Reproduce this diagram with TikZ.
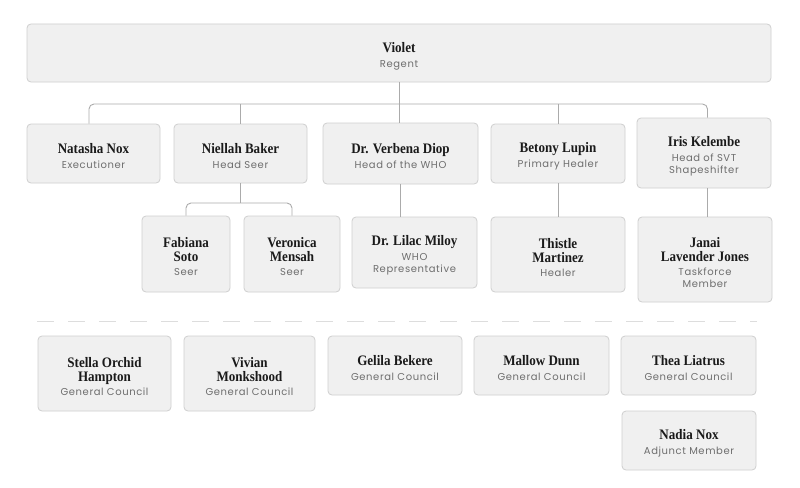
\documentclass[tikz,border=0pt]{standalone}
\usepackage{fontspec}
\newfontfamily\namefont[FakeStretch=0.9]{Liberation Serif}
\newfontfamily\subfont[LetterSpace=6]{Poppins}
\definecolor{boxfill}{HTML}{F0F0F0}
\definecolor{boxline}{HTML}{CFCFCF}
\definecolor{connline}{HTML}{ABABAB}
\definecolor{namecol}{HTML}{1A1A1A}
\definecolor{subcol}{HTML}{6E6E6E}
\definecolor{dashcol}{HTML}{DDDDDD}
\newcommand{\nm}[1]{{\namefont\bfseries\color{namecol}#1}}
\newcommand{\nmf}[1]{\rule{0pt}{16pt}{\namefont\bfseries\color{namecol}#1}}
\newcommand{\sbt}[1]{{\subfont\fontsize{10}{11}\selectfont\color{subcol}#1}}
\begin{document}
\begin{tikzpicture}[x=1pt,y=-1pt,
  card/.style={draw=boxline, fill=boxfill, rounded corners=4pt, line width=0.8pt,
    inner sep=0pt, align=center, font=\fontsize{14.5}{14}\selectfont},
  conn/.style={draw=connline, line width=0.9pt},
  dashline/.style={draw=dashcol, line width=0.9pt, dash pattern=on 17pt off 14pt}]
\useasboundingbox (0,0) rectangle (800,487);
\fill[white] (0,0) rectangle (800,487);

% top
\node[card, minimum width=744pt, minimum height=58pt] (violet) at (399,53) {\nmf{Violet}\\[1pt]\sbt{Regent}};

% row 1
\node[card, minimum width=133pt, minimum height=59pt] (nat) at (93.5,153.5) {\nmf{Natasha Nox}\\[1pt]\sbt{Executioner}};
\node[card, minimum width=133pt, minimum height=59pt] (niel) at (240.5,153.5) {\nmf{Niellah Baker}\\[1pt]\sbt{Head Seer}};
\node[card, minimum width=155pt, minimum height=61pt] (verb) at (400.5,153.5) {\nmf{Dr. Verbena Diop}\\[1pt]\sbt{Head of the WHO}};
\node[card, minimum width=134pt, minimum height=59pt] (bet) at (558,153.5) {\nmf{Betony Lupin}\\[1pt]\sbt{Primary Healer}};
\node[card, minimum width=134pt, minimum height=70pt] (iris) at (704,153) {\nmf{Iris Kelembe}\\[1pt]\sbt{Head of SVT}\\[-2pt]\sbt{Shapeshifter}};

% row 2
\node[card, minimum width=88pt, minimum height=76pt] (fab) at (186,254) {\nmf{Fabiana}\\\nm{Soto}\\\sbt{Seer}};
\node[card, minimum width=96pt, minimum height=76pt] (ver) at (292,254) {\nmf{Veronica}\\\nm{Mensah}\\\sbt{Seer}};
\node[card, minimum width=125pt, minimum height=71pt] (lil) at (414.5,252.5) {\nmf{Dr. Lilac Miloy}\\[1pt]\sbt{WHO}\\[-2pt]\sbt{Representative}};
\node[card, minimum width=134pt, minimum height=75pt] (thi) at (558,254.5) {\nmf{Thistle}\\\nm{Martinez}\\\sbt{Healer}};
\node[card, minimum width=134pt, minimum height=85pt] (jan) at (705,259.5) {\nmf{Janai}\\\nm{Lavender Jones}\\\sbt{Taskforce}\\[-2pt]\sbt{Member}};

% separator
\draw[dashline] (37,321) -- (757,321);

% council
\node[card, minimum width=133pt, minimum height=75pt] (ste) at (104.5,373.5) {\nmf{Stella Orchid}\\\nm{Hampton}\\\sbt{General Council}};
\node[card, minimum width=131pt, minimum height=75pt] (viv) at (249.5,373.5) {\nmf{Vivian}\\\nm{Monkshood}\\\sbt{General Council}};
\node[card, minimum width=134pt, minimum height=59pt] (gel) at (395,365.5) {\nmf{Gelila Bekere}\\[1pt]\sbt{General Council}};
\node[card, minimum width=135pt, minimum height=59pt] (mal) at (541.5,365.5) {\nmf{Mallow Dunn}\\[1pt]\sbt{General Council}};
\node[card, minimum width=135pt, minimum height=59pt] (the) at (688.5,365.5) {\nmf{Thea Liatrus}\\[1pt]\sbt{General Council}};
\node[card, minimum width=134pt, minimum height=59pt] (nad) at (689,440.5) {\nmf{Nadia Nox}\\[1pt]\sbt{Adjunct Member}};

% connectors
\coordinate (bus) at (399,104);
\coordinate (nb) at (240,203);
\draw[conn] (violet.south) -- (violet.south |- verb.north);
\draw[conn, rounded corners=5pt] ([xshift=-4.5pt]nat.north) -- ([xshift=-4.5pt]nat.north |- bus) -- ([xshift=3.5pt]iris.north |- bus) -- ([xshift=3.5pt]iris.north);
\draw[conn] (niel.north) -- (niel.north |- bus);
\draw[conn] (bet.north) -- (bet.north |- bus);
\draw[conn] (niel.south) -- (niel.south |- nb);
\draw[conn, rounded corners=5pt] (fab.north) -- (fab.north |- nb) -- (ver.north |- nb) -- (ver.north);
\draw[conn] (verb.south) -- (verb.south |- lil.north);
\draw[conn] (bet.south) -- (thi.north);
\draw[conn] ([xshift=3.5pt]iris.south) -- ([xshift=3.5pt]iris.south |- jan.north);
\end{tikzpicture}
\end{document}
